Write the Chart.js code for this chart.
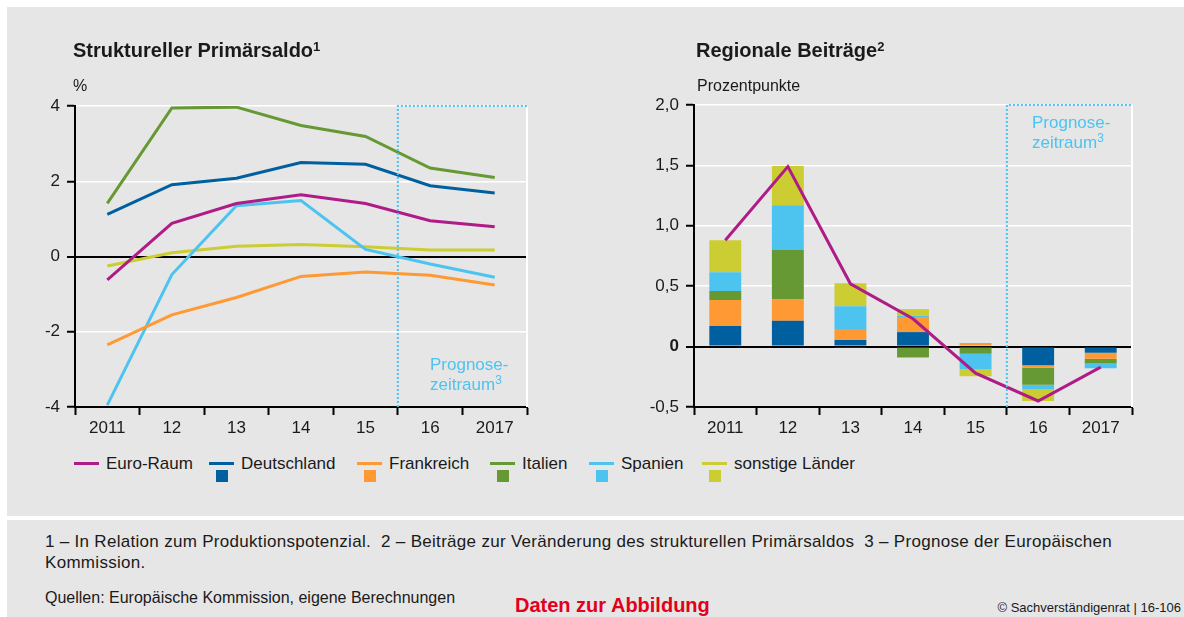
<!DOCTYPE html>
<html><head><meta charset="utf-8">
<script src="https://cdn.jsdelivr.net/npm/chart.js@4/dist/chart.umd.min.js"></script>
<style>
html,body{margin:0;padding:0;background:#fff;}
body{width:1184px;height:617px;position:relative;overflow:hidden;font-family:"Liberation Sans",Arial,sans-serif;color:#1a1a1a;}
.panel{position:absolute;background:#e6e6e6;}
.abs{position:absolute;white-space:nowrap;}
canvas{position:absolute;top:0;}
.title{font-size:20px;font-weight:bold;line-height:20px;}
.title .sup{font-size:13px;position:relative;top:-6px;}
.unit{font-size:16px;line-height:16px;}
.prog{font-size:17px;line-height:20px;color:#4dc3f0;}
.prog .sup{font-size:12px;position:relative;top:-6px;}
.leg{font-size:17px;line-height:20px;}
.sw{position:absolute;}
.foot{font-size:17px;line-height:21px;letter-spacing:0.3px;}
</style></head>
<body>
<div class="panel" style="left:7px;top:7px;width:1177px;height:509px"></div>
<div class="panel" style="left:7px;top:520px;width:1177px;height:97px"></div>
<canvas id="c1" width="560" height="447" style="left:0px"></canvas>
<canvas id="c2" width="560" height="447" style="left:600px"></canvas>

<div class="abs title" style="left:73px;top:40px">Struktureller Primärsaldo<span class="sup">1</span></div>
<div class="abs unit" style="left:73px;top:78px">%</div>
<div class="abs title" style="left:696px;top:40px">Regionale Beiträge<span class="sup">2</span></div>
<div class="abs unit" style="left:697px;top:78px">Prozentpunkte</div>

<div class="abs prog" style="left:430px;top:355px">Prognose-<br>zeitraum<span class="sup">3</span></div>
<div class="abs prog" style="left:1032px;top:113px">Prognose-<br>zeitraum<span class="sup">3</span></div>

<div id="legend"></div>

<div class="abs foot" style="left:45px;top:531px">1 – In Relation zum Produktionspotenzial.&nbsp; 2 – Beiträge zur Veränderung des strukturellen Primärsaldos&nbsp; 3 – Prognose der Europäischen<br>Kommission.</div>
<div class="abs" style="left:45px;top:590px;font-size:16px;line-height:16px">Quellen: Europäische Kommission, eigene Berechnungen</div>
<div class="abs" style="left:515px;top:595px;font-size:20px;line-height:20px;font-weight:bold;color:#e2001a">Daten zur Abbildung</div>
<div class="abs" style="right:3px;top:600px;font-size:13px;line-height:16px">© Sachverständigenrat | 16-106</div>

<script>
// ---- categories ----
const years = ['2011', '12', '13', '14', '15', '16', '2017'];
const forecastFirstYear = '16';

// ---- series names & colours ----
const seriesNames = ['Euro-Raum', 'Deutschland', 'Frankreich', 'Italien', 'Spanien', 'sonstige Länder'];
const seriesColors = ['#b01c87', '#00609f', '#ff9933', '#669933', '#4dc3f0', '#cccc33'];

// ---- left chart: Struktureller Primärsaldo (%) ----
const saldoEuroRaum   = [-0.62, 0.88, 1.41, 1.64, 1.41, 0.95, 0.79];
const saldoDeutschland = [1.12, 1.91, 2.08, 2.50, 2.45, 1.88, 1.69];
const saldoFrankreich = [-2.35, -1.55, -1.09, -0.53, -0.41, -0.50, -0.76];
const saldoItalien    = [1.41, 3.95, 3.97, 3.48, 3.19, 2.35, 2.10];
const saldoSpanien    = [-3.95, -0.48, 1.35, 1.49, 0.19, -0.20, -0.55];
const saldoSonstige   = [-0.25, 0.10, 0.27, 0.32, 0.26, 0.17, 0.17];

// ---- right chart: Regionale Beiträge (Prozentpunkte) ----
const beitragEuroRaum   = [0.88, 1.49, 0.52, 0.23, -0.22, -0.45, -0.17];
const beitragDeutschland = [0.17, 0.215, 0.055, 0.12, 0.0, -0.155, -0.05];
const beitragFrankreich = [0.215, 0.175, 0.09, 0.125, 0.03, -0.02, -0.05];
const beitragItalien    = [0.075, 0.41, -0.01, -0.09, -0.06, -0.14, -0.04];
const beitragSpanien    = [0.155, 0.37, 0.19, 0.01, -0.13, -0.04, -0.04];
const beitragSonstige   = [0.265, 0.325, 0.19, 0.055, -0.055, -0.095, 0.0];

// ---- tick settings ----
const leftTicks = {min: -4, max: 4, step: 2};
const rightTicks = {min: -0.5, max: 2.0, step: 0.5};

Chart.defaults.font.family = '"Liberation Sans", Arial, sans-serif';
Chart.defaults.color = '#1a1a1a';
Chart.defaults.animation = false;

const FONT = 17;
const forecastSplit = years.indexOf(forecastFirstYear) - 0.5;

const decor = {
  id: 'decor',
  afterDatasetsDraw(chart) {
    const {ctx, chartArea: a, scales: {x}} = chart;
    const px = x.getPixelForValue(forecastSplit);
    ctx.save();
    ctx.strokeStyle = '#ffffff';
    ctx.lineWidth = 2;
    ctx.beginPath(); ctx.moveTo(a.right, a.top); ctx.lineTo(a.right, a.bottom); ctx.stroke();
    ctx.strokeStyle = '#4dc3f0';
    ctx.lineWidth = 2;
    ctx.setLineDash([2, 2]);
    ctx.beginPath(); ctx.moveTo(px, a.bottom); ctx.lineTo(px, a.top); ctx.lineTo(a.right, a.top); ctx.stroke();
    ctx.restore();
  }
};

function xScale() {
  return {
    offset: true,
    stacked: true,
    grid: {offset: true, drawOnChartArea: false, drawTicks: true, tickLength: 8, tickColor: '#000', tickWidth: 2},
    border: {color: '#000', width: 2},
    ticks: {font: {size: FONT}, padding: 3, maxRotation: 0, autoSkip: false, color: '#1a1a1a'},
    afterFit: s => { s.height = 40; }
  };
}
function yScale(t, width, fmt, boldZero, stacked) {
  return {
    min: t.min, max: t.max, stacked: stacked,
    grid: {
      color: c => c.tick.value === 0 ? '#000' : (c.tick.value === t.min ? 'rgba(0,0,0,0)' : '#ffffff'),
      lineWidth: c => c.tick.value === 0 ? 2 : 1.5,
      drawTicks: true, tickLength: 8, tickColor: '#000', tickWidth: 2
    },
    border: {color: '#000', width: 2},
    ticks: {
      stepSize: t.step, padding: 7, color: '#1a1a1a',
      font: c => ({size: FONT, weight: (boldZero && c.tick && c.tick.value === 0) ? 'bold' : 'normal'}),
      callback: fmt
    },
    afterFit: s => { s.width = width; }
  };
}

const leftSeries = [saldoEuroRaum, saldoDeutschland, saldoFrankreich, saldoItalien, saldoSpanien, saldoSonstige];
new Chart(document.getElementById('c1'), {
  type: 'line',
  data: {
    labels: years,
    datasets: leftSeries.map((d, i) => ({
      label: seriesNames[i], data: d, borderColor: seriesColors[i], backgroundColor: seriesColors[i],
      borderWidth: 3, pointRadius: 0, tension: 0, fill: false
    }))
  },
  options: {
    responsive: false, devicePixelRatio: 1,
    layout: {padding: {top: 106, right: 33, left: 0, bottom: 0}},
    plugins: {legend: {display: false}, tooltip: {enabled: false}},
    scales: {
      x: Object.assign(xScale(), {stacked: false}),
      y: yScale(leftTicks, 75, v => String(v), false, false)
    }
  },
  plugins: [decor]
});

const rightBars = [beitragDeutschland, beitragFrankreich, beitragItalien, beitragSpanien, beitragSonstige];
new Chart(document.getElementById('c2'), {
  type: 'bar',
  data: {
    labels: years,
    datasets: [{
      type: 'line', label: seriesNames[0], data: beitragEuroRaum, borderColor: seriesColors[0],
      borderWidth: 3, pointRadius: 0, tension: 0, fill: false, stack: 'line', order: 0
    }].concat(rightBars.map((d, i) => ({
      type: 'bar', label: seriesNames[i + 1], data: d, backgroundColor: seriesColors[i + 1],
      borderWidth: 0, stack: 'bars', order: 1, barPercentage: 0.51, categoryPercentage: 1
    })))
  },
  options: {
    responsive: false, devicePixelRatio: 1,
    layout: {padding: {top: 105, right: 28, left: 0, bottom: 0}},
    plugins: {legend: {display: false}, tooltip: {enabled: false}},
    scales: {
      x: xScale(),
      y: yScale(rightTicks, 94, v => v === 0 ? '0' : v.toFixed(1).replace('.', ','), true, true)
    }
  },
  plugins: [decor]
});

// ---- legend (HTML) ----
const legendX = [74, 209, 357, 490, 589, 702];
const legend = document.getElementById('legend');
seriesNames.forEach((name, i) => {
  const x = legendX[i];
  const line = document.createElement('div');
  line.className = 'sw';
  line.style.cssText = `left:${x}px;top:462px;width:25px;height:3px;background:${seriesColors[i]}`;
  legend.appendChild(line);
  if (i > 0) {
    const sq = document.createElement('div');
    sq.className = 'sw';
    sq.style.cssText = `left:${x + 7}px;top:470px;width:12px;height:12px;background:${seriesColors[i]}`;
    legend.appendChild(sq);
  }
  const t = document.createElement('div');
  t.className = 'abs leg';
  t.style.left = (x + 32) + 'px';
  t.style.top = '454px';
  t.textContent = name;
  legend.appendChild(t);
});
</script>
</body></html>
